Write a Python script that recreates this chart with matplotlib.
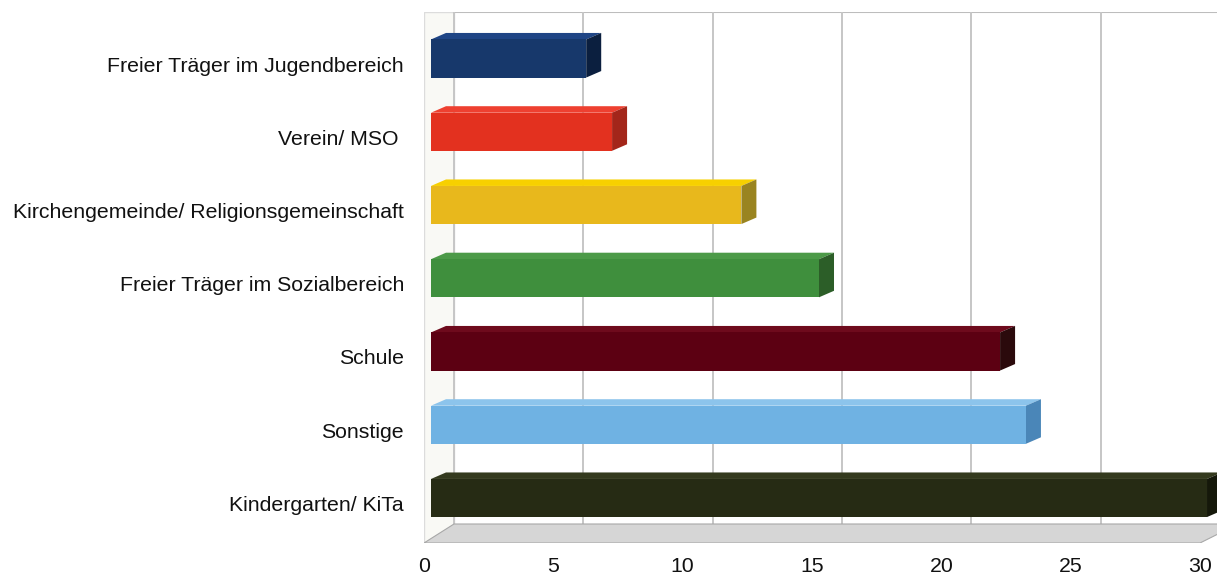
import matplotlib
matplotlib.use("Agg")
import matplotlib.pyplot as plt
from matplotlib.patches import Polygon
from matplotlib.transforms import ScaledTranslation

# ── Data ──────────────────────────────────────────────────────────────────────
categories = [
    "Kindergarten/ KiTa",
    "Sonstige",
    "Schule",
    "Freier Träger im Sozialbereich",
    "Kirchengemeinde/ Religionsgemeinschaft",
    "Verein/ MSO ",
    "Freier Träger im Jugendbereich",
]
values = [30, 23, 22, 15, 12, 7, 6]
xticks = [0, 5, 10, 15, 20, 25, 30]

front_colors = ["#262b14", "#6fb2e3", "#5c0012", "#3f8f3d", "#e8b81c", "#e3311f", "#17386b"]
top_colors = ["#343a1e", "#8cc4ec", "#6e0a1c", "#4c9a48", "#f7d000", "#ee4030", "#1f4585"]
side_colors = ["#15180a", "#4a86b8", "#2b0a0c", "#2c5e28", "#9a8420", "#a3261a", "#0b1f3f"]

# ── Layout (pixel based) ──────────────────────────────────────────────────────
W, H = 1217, 580
DPI = 100
X0_PX = 431          # bar front plane, value 0
PX_PER_X = 25.867
Y0_PX = 498          # first category centre (from top)
PX_PER_Y = 73.25
AX_L, AX_R, AX_T, AX_B = 424, W, 12, 543

plt.rcParams["font.family"] = ["Liberation Sans", "DejaVu Sans"]

fig = plt.figure(figsize=(W / DPI, H / DPI), dpi=DPI)
fig.patch.set_facecolor("white")
ax = fig.add_axes([AX_L / W, 1 - AX_B / H, (AX_R - AX_L) / W, (AX_B - AX_T) / H])
xmin, xmax = (AX_L - X0_PX) / PX_PER_X, (AX_R - X0_PX) / PX_PER_X
ymin, ymax = -(AX_B - Y0_PX) / PX_PER_Y, (Y0_PX - AX_T) / PX_PER_Y
ax.set_xlim(xmin, xmax)
ax.set_ylim(ymin, ymax)


def dx(px):
    return px / PX_PER_X


def dy(px):
    return px / PX_PER_Y


# depth offsets
wall_dx = dx(23)
floor_front_dx = dx(-7)
floor_back_y = dy(Y0_PX - 524)
floor_front_y = ymin
bar_dx, bar_dy = dx(15), dy(6.5)
bar_h = 0.52

# ── Walls and floor ───────────────────────────────────────────────────────────
ax.add_patch(Polygon([(xmin, floor_front_y), (xmin, ymax), (wall_dx, ymax), (wall_dx, floor_back_y)],
                     closed=True, facecolor="#f9f9f5", edgecolor="#dcdcdc", lw=1.0, zorder=0))
ax.plot([wall_dx, xmax], [ymax - dy(0.5)] * 2, color="#bdbdbd", lw=1.5, zorder=1)
ax.vlines([t + wall_dx for t in xticks], floor_back_y, ymax, color="#c6c6c6", lw=1.4, zorder=1)

floor_pts = [(xmin, floor_front_y), (30 + floor_front_dx, floor_front_y),
             (30 + wall_dx + dx(8), floor_back_y), (wall_dx, floor_back_y)]
ax.add_patch(Polygon(floor_pts, closed=True, facecolor="#d6d6d6", edgecolor="#a8a8a8",
                     lw=0.8, zorder=2))

# ── Bars: front face plus top and side faces ──────────────────────────────────
for i, v in enumerate(values):
    ax.barh(i, v, height=bar_h, left=0, color=front_colors[i], lw=0, zorder=4)
    top = i + bar_h / 2
    bot = i - bar_h / 2
    ax.add_patch(Polygon([(0, top), (v, top), (v + bar_dx, top + bar_dy), (bar_dx, top + bar_dy)],
                         closed=True, facecolor=top_colors[i], lw=0, zorder=3))
    ax.add_patch(Polygon([(v, bot), (v, top), (v + bar_dx, top + bar_dy), (v + bar_dx, bot + bar_dy)],
                         closed=True, facecolor=side_colors[i], lw=0, zorder=3))

# ── Axes text ─────────────────────────────────────────────────────────────────
ax.set_yticks(range(len(categories)))
ax.set_yticklabels(categories, fontsize=15.3, color="#111111")
ax.set_xticks(xticks)
ax.set_xticklabels([str(t) for t in xticks], fontsize=15.3, color="#111111")
ax.tick_params(axis="y", length=0, pad=14.4)
ax.tick_params(axis="x", length=0, pad=10)
for lbl in ax.get_yticklabels():
    lbl.set_transform(lbl.get_transform() + ScaledTranslation(0, -5.5 / DPI, fig.dpi_scale_trans))
for lbl in ax.get_xticklabels():
    lbl.set_transform(lbl.get_transform() + ScaledTranslation(-7 / DPI, 0, fig.dpi_scale_trans))

for s in ax.spines.values():
    s.set_visible(False)
ax.set_facecolor("white")

fig.savefig("out.png", dpi=DPI, facecolor="white")
